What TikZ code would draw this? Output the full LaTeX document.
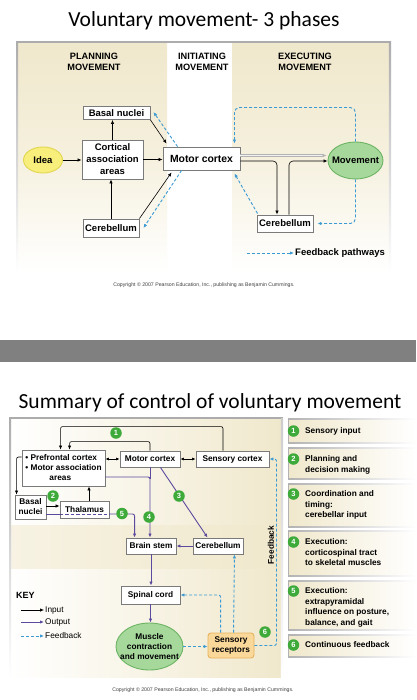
\documentclass[tikz,border=0pt]{standalone}
\usepackage{fontspec}
\setmainfont{Liberation Sans}
\newfontfamily\titlefont{Carlito}
\usetikzlibrary{arrows.meta,calc,shapes.geometric}
\definecolor{beige}{HTML}{F0E8CC}
\definecolor{fbc}{HTML}{3C9AD2}
\definecolor{outc}{HTML}{5B4A9E}
\definecolor{ideaf}{HTML}{F8EE7C}
\definecolor{ideab}{HTML}{E2D650}
\definecolor{grnf}{HTML}{A6D89C}
\definecolor{grnb}{HTML}{6CB463}
\definecolor{numg}{HTML}{3DAA3A}
\definecolor{orngf}{HTML}{FAD89A}
\definecolor{orngb}{HTML}{E6B35E}
\definecolor{boxb}{HTML}{7A7A7A}
\definecolor{bandc}{HTML}{808080}
\tikzset{
  tip/.style={-{Latex[length=4pt,width=3.4pt]}},
  box/.style={draw=boxb, line width=0.9pt, fill=white, inner sep=1pt, align=center,
    font=\bfseries\fontsize{9.5}{12}\selectfont},
  sbox/.style={box, font=\bfseries\fontsize{8.3}{10}\selectfont},
  inp/.style={tip, line width=0.6pt, draw=black},
  inpboth/.style={{Latex[length=3.5pt,width=3pt]}-{Latex[length=3.5pt,width=3pt]}, line width=0.6pt, draw=black},
  outl/.style={draw=outc, line width=0.9pt},
  outp/.style={tip, outl},
  fbk/.style={tip, draw=fbc, line width=0.9pt, dash pattern=on 3pt off 2pt},
  dbl/.style={-{Latex[length=4pt,width=3.4pt]}, draw=gray!60, double=gray!10, double distance=1.3pt, line width=0.5pt},
  num/.style={circle, fill=numg, text=white, font=\bfseries\fontsize{7.5}{7.5}\selectfont, inner sep=0pt, minimum size=11.5pt},
  head/.style={font=\bfseries\fontsize{9.2}{11}\selectfont, align=center},
  item/.style={anchor=north west, inner sep=0pt, align=left, font=\bfseries\fontsize{8.3}{10.5}\selectfont},
  copy/.style={font=\fontsize{5.2}{6}\selectfont, text=black!75}
}
\begin{document}
\begin{tikzpicture}[x=1pt,y=-1pt]
\useasboundingbox (0,0) rectangle (416,700);
\fill[white] (0,0) rectangle (416,700);

% ---------------- top slide ----------------
\node[font=\titlefont\fontsize{21.5}{24}\selectfont, anchor=base] (t1) at (204,27) {Voluntary movement- 3 phases};

\shade[top color=beige, bottom color=white, middle color=beige!65] (17,42) rectangle (167,272);
\shade[top color=beige, bottom color=white, middle color=beige!65] (232,42) rectangle (390,272);
\fill[gray!65] (16,41) rectangle (391,43.2);
\shade[top color=gray!65, bottom color=white] (16,42) rectangle (18.2,272);
\shade[top color=gray!65, bottom color=white] (388.8,42) rectangle (391,272);

\node[head] (hp) at (94,62) {PLANNING\\MOVEMENT};
\node[head] (hi) at (202,62) {INITIATING\\MOVEMENT};
\node[head] (he) at (305,62) {EXECUTING\\MOVEMENT};

\node[box, minimum width=67, minimum height=13] (basal) at (116.5,113) {Basal nuclei};
\node[box, minimum width=61, minimum height=39] (cort) at (112.5,159.5) {Cortical\\association\\areas};
\node[ellipse, draw=ideab, fill=ideaf, line width=0.9pt, minimum width=39, minimum height=26, inner sep=0pt,
  label={[font=\bfseries\fontsize{9.5}{11}\selectfont]center:Idea}] (idea) at (43,160) {};
\node[box, minimum width=77, minimum height=23, font=\bfseries\fontsize{10.4}{12}\selectfont] (motor) at (201.5,158.5) {Motor cortex};
\node[ellipse, draw=grnb, fill=grnf, line width=0.9pt, minimum width=55, minimum height=37, inner sep=0pt,
  label={[font=\bfseries\fontsize{9.5}{11}\selectfont]center:Movement}] (move) at (355.5,160.5) {};
\node[box, minimum width=56, minimum height=18] (cerL) at (111,228) {Cerebellum};
\node[box, minimum width=56, minimum height=17] (cerR) at (285,223.5) {Cerebellum};

\draw[inp] (idea.east) -- (idea.east -| cort.west);
\draw[inp] (cort.east) -- (cort.east -| motor.west);
\draw[inp] (cort.north) -- (cort.north |- basal.south);
\draw[inp] (cerL.north) -- (cerL.north |- cort.south);
\draw[inp] (basal.south east) -- ($(motor.north west)+(4,-3)$);
\draw[inp] (cerL.north east) -- ($(motor.south west)+(9,2)$);
\draw[fbk] ($(motor.north west)+(15,0)$) -- ($(basal.east)+(3,-1)$);
\draw[fbk] ($(motor.south west)+(19,0)$) -- ($(cerL.east)+(4,0)$);
\draw[dbl] ($(motor.east)+(0,-3)$) -- ($(move.west)+(-1,-5)$);
\draw[inp, rounded corners=4] ($(motor.east)+(0,2.5)$) -| ($(cerR.north)+(-8,0)$);
\draw[inp, rounded corners=4] ($(cerR.north)+(4,0)$) |- ($(move.west)+(0,0.5)$);
\draw[fbk, rounded corners=5] (move.north) |- ($(motor.north east)+(-6,-39)$) -- ($(motor.north east)+(-6,-3)$);
\draw[fbk, rounded corners=5] (move.south) |- ($(cerR.east)+(4,0)$);
\draw[fbk] ($(cerR.north west)+(1,-1)$) -- ($(motor.south east)+(-6,3)$);

\coordinate (lgA) at (247,253);
\node[anchor=west, inner sep=1pt, font=\bfseries\fontsize{9.5}{11}\selectfont] (lgT) at (294,253) {Feedback pathways};
\draw[fbk] (lgA) -- (lgT.west);

\node[copy] (cp1) at (204,285) {Copyright © 2007 Pearson Education, Inc., publishing as Benjamin Cummings.};

% separator band
\fill[bandc] (0,340) rectangle (416,362);

% ---------------- bottom slide ----------------
\node[font=\titlefont\fontsize{21.5}{24}\selectfont, anchor=base] (t2) at (210,408) {Summary of control of voluntary movement};

\shade[left color=white, right color=beige] (10,418) rectangle (282,677);
\shade[left color=beige!55, right color=beige] (10,525) rectangle (282,568);
\fill[gray!65] (9,417) rectangle (283,419.2);
\shade[top color=gray!65, bottom color=white] (9,418) rectangle (11.2,677);
\shade[top color=gray!40, bottom color=white] (280.8,418) rectangle (283,677);

% right panel items
\foreach \a/\b in {419/443, 448/479, 484/527, 531/576, 581/630, 635/657} {
  \shade[left color=beige, right color=white] (288,\a) rectangle (416,\b);
  \shade[left color=gray!60, right color=white] (288,\a-0.5) rectangle (416,\a+0.5);
  \shade[left color=gray!60, right color=white] (288,\b-0.5) rectangle (416,\b+0.5);
  \fill[gray!60] (287.5,\a-0.5) rectangle (288.7,\b+0.5);
}
\node[num] (r1) at (293.5,431) {1};
\node[num] (r2) at (293.5,459) {2};
\node[num] (r3) at (293.5,494) {3};
\node[num] (r4) at (293.5,542) {4};
\node[num] (r5) at (293.5,591) {5};
\node[num] (r6) at (293.5,645) {6};
\node[item] (i1) at (305,427.5) {Sensory input};
\node[item] (i2) at (305,455.5) {Planning and\\decision making};
\node[item] (i3) at (305,490.5) {Coordination and\\timing:\\cerebellar input};
\node[item] (i4) at (305,538.5) {Execution:\\corticospinal tract\\to skeletal muscles};
\node[item] (i5) at (305,587.5) {Execution:\\extrapyramidal\\influence on posture,\\balance, and gait};
\node[item] (i6) at (305,641.5) {Continuous feedback};

% nodes
\node[sbox, minimum width=83, minimum height=36, align=left] (pfc) at (63.5,468) {• Prefrontal cortex\\• Motor association\\\hspace*{2.9em}areas};
\node[sbox, minimum width=60, minimum height=16] (mc2) at (150,459) {Motor cortex};
\node[sbox, minimum width=73, minimum height=16] (sc) at (232.5,459) {Sensory cortex};
\node[sbox, minimum width=31, minimum height=24] (bn) at (30.5,507) {Basal\\nuclei};
\node[sbox, minimum width=49, minimum height=17] (th) at (84.5,509.5) {Thalamus};
\node[sbox, minimum width=50, minimum height=16] (bs) at (151,546) {Brain stem};
\node[sbox, minimum width=50, minimum height=16] (cb) at (218,546) {Cerebellum};
\node[sbox, minimum width=59, minimum height=18] (sp) at (150.5,595) {Spinal cord};
\node[ellipse, draw=grnb, fill=grnf, line width=0.9pt, minimum width=67, minimum height=47, inner sep=0pt,
  label={[align=center, font=\bfseries\fontsize{8.3}{10}\selectfont]center:Muscle\\contraction\\and movement}] (mus) at (149.5,646.5) {};
\node[sbox, rounded corners=3pt, draw=orngb, fill=orngf, minimum width=46, minimum height=25] (sr) at (231,645.5) {Sensory\\receptors};

% input connectors
\draw[inp, rounded corners=2] ($(sc.north)+(-9.5,0)$) |- ($(pfc.north west)+(39,-23)$) -- ($(pfc.north west)+(39,0)$);
\draw[inp, rounded corners=2] (mc2.north) |- ($(pfc.north west)+(48,-8)$) -- ($(pfc.north west)+(48,0)$);
\draw[inpboth] ($(pfc.east)+(0,-9)$) -- (mc2.west);
\draw[inpboth] (mc2.east) -- (sc.west);
\draw[inp, rounded corners=2] ($(pfc.west)+(0,-11)$) -| ($(bn.north west)+(2,0)$);
\draw[inp] ($(bn.east)+(0,-1)$) -- ($(th.west)+(0,-3.5)$);
\draw[inp] ($(th.north)+(4.5,0)$) -- ($(pfc.south)+(25.5,0)$);

% output connectors
\draw[outl] ($(bn.east)+(0,7)$) -- ($(th.west)+(0,4.5)$);
\draw[outl, dash pattern=on 3.5pt off 2pt] ($(th.west)+(0,4.5)$) -- ($(th.east)+(0,4.5)$);
\draw[outp, rounded corners=2] ($(th.east)+(0,4.5)$) -| ($(bs.north west)+(9,0)$);
\draw[outl] (mc2.south) -- ($(mc2.south)+(0,12)$);
\draw[outp, rounded corners=2] ($(pfc.east)+(0,9)$) -| ($(bs.north)+(-1,0)$);
\draw[outp] ($(mc2.south east)+(-20,0)$) -- ($(cb.north west)+(15,0)$);
\draw[outp] (cb.west) -- (bs.east);
\draw[outp] (bs.south) -- (bs.south |- sp.north);
\draw[outp] (sp.south) -- (sp.south |- mus.north);

% feedback connectors
\draw[fbk] (mus.east) -- (mus.east -| sr.west);
\draw[fbk, rounded corners=2] ($(sr.north west)+(13,0)$) |- (sp.east);
\draw[fbk] ($(sr.north west)+(26,0)$) -- ($(cb.south east)+(-9,0)$);
\draw[fbk, rounded corners=2] (sr.east) -| ($(sc.east)+(7,0)$) -- (sc.east);

% numbers
\node[num] (n1) at (116,433) {1};
\node[num] (n2) at (53,496) {2};
\node[num] (n3) at (179,496) {3};
\node[num] (n4) at (149,517) {4};
\node[num] (n5) at (122,513.5) {5};
\node[num] (n6) at (265,632) {6};

\node[rotate=90, font=\bfseries\fontsize{8.3}{10}\selectfont] (fbl) at (271,545) {Feedback};

% key
\node[anchor=west, inner sep=1pt, font=\bfseries\fontsize{9}{10}\selectfont] (key) at (15,595) {KEY};
\node[anchor=west, inner sep=1pt, font=\fontsize{8.3}{10}\selectfont] (kin) at (44,610) {Input};
\node[anchor=west, inner sep=1pt, font=\fontsize{8.3}{10}\selectfont] (kout) at (44,622) {Output};
\node[anchor=west, inner sep=1pt, font=\fontsize{8.3}{10}\selectfont] (kfb) at (44,636) {Feedback};
\coordinate (kinA) at (21,610);
\coordinate (koutA) at (21,622);
\coordinate (kfbA) at (21,636);
\draw[inp] (kinA) -- (kin.west);
\draw[outp] (koutA) -- (kout.west);
\draw[fbk] (kfbA) -- (kfb.west);

\node[copy] (cp2) at (203,690) {Copyright © 2007 Pearson Education, Inc., publishing as Benjamin Cummings.};
\end{tikzpicture}
\end{document}
